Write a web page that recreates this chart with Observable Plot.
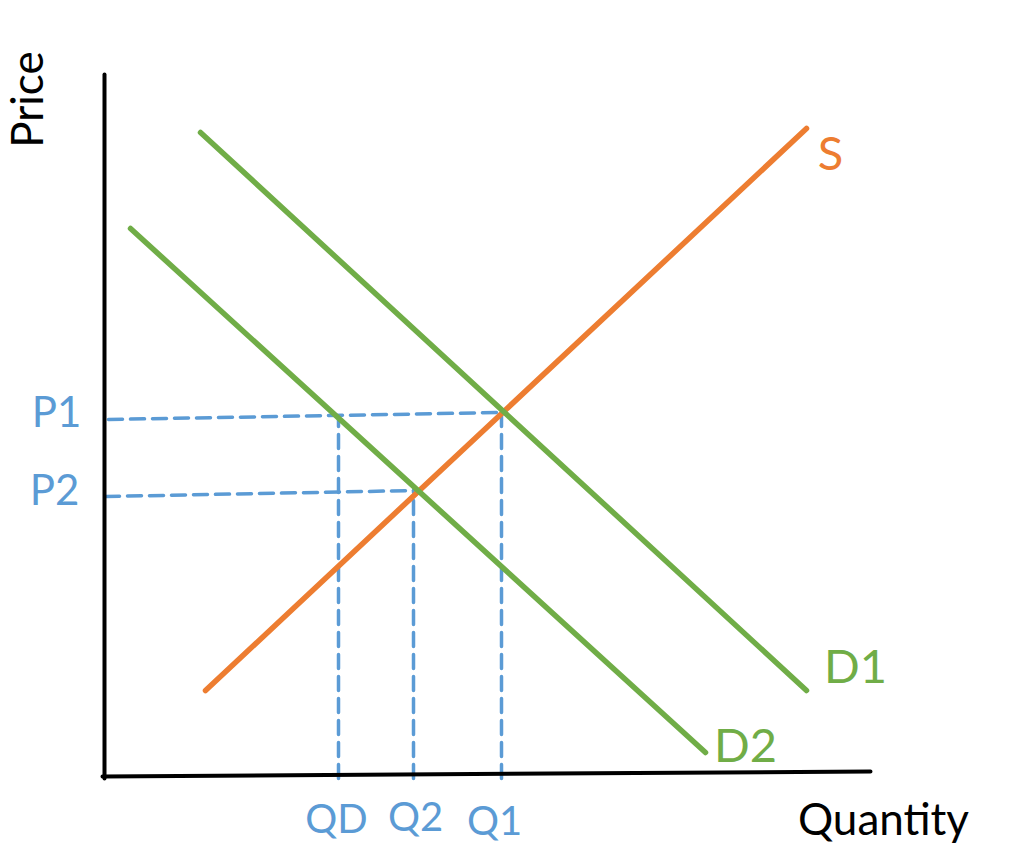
<!DOCTYPE html>
<html>
<head>
<meta charset="utf-8">
<script src="https://cdn.jsdelivr.net/npm/d3@7"></script>
<script src="https://cdn.jsdelivr.net/npm/@observablehq/plot@0.6"></script>
<style>
  html, body { margin: 0; padding: 0; background: #fff; }
  svg { display: block; }
</style>
</head>
<body>
<div id="chart"></div>
<script>
// Quantity / price coordinates (origin at the axes corner)
const supplyQ = [101, 702];
const supplyP = [86, 648];
const demand1Q = [96, 702];
const demand1P = [644, 86];
const demand2Q = [26, 601];
const demand2P = [548, 24];

const xAxisQ = [-2, 766];
const xAxisP = [0, 5];
const yAxisQ = [0, 0];
const yAxisP = [-2, 702];

// equilibrium / guide values
const priceLabels = ["P1", "P2"];
const priceLevels = [[357, 364], [280, 286]];   // left end, right end
const priceLineQ = [[4, 396], [1, 311]];
const qtyLabels = ["QD", "Q2", "Q1"];
const qtyLevels = [234, 309, 397];
const qtyTop = [357, 286, 364];

const curveLabels = ["S", "D1", "D2"];
const curveLabelQ = [726, 751, 641];
const curveLabelP = [622, 109, 30];
const qtyLabelQ = [232, 311, 390];
const qtyLabelP = [-44, -42, -46];
const priceLabelQ = [-48, -50];
const priceLabelP = [363, 285];

const ORANGE = "#ED7D31", GREEN = "#70AD47", BLUE = "#5B9BD5";

const toPts = (qs, ps, key) => qs.map((q, i) => ({q, p: ps[i], key}));

const curves = [
  ...toPts(supplyQ, supplyP, "S"),
  ...toPts(demand1Q, demand1P, "D1"),
  ...toPts(demand2Q, demand2P, "D2")
];
const axes = [
  ...toPts(xAxisQ, xAxisP, "x"),
  ...toPts(yAxisQ, yAxisP, "y")
];
const guides = [];
priceLabels.forEach((l, i) => {
  guides.push({q: priceLineQ[i][0], p: priceLevels[i][0], key: l});
  guides.push({q: priceLineQ[i][1], p: priceLevels[i][1], key: l});
});
qtyLabels.forEach((l, i) => {
  guides.push({q: qtyLevels[i], p: -2, key: l});
  guides.push({q: qtyLevels[i], p: qtyTop[i], key: l});
});

const curveText = curveLabels.map((t, i) => ({t, q: curveLabelQ[i], p: curveLabelP[i], c: i === 0 ? ORANGE : GREEN}));
const qtyText = qtyLabels.map((t, i) => ({t, q: qtyLabelQ[i], p: qtyLabelP[i]}));
const priceText = priceLabels.map((t, i) => ({t, q: priceLabelQ[i], p: priceLabelP[i]}));

const chart = Plot.plot({
  width: 1017,
  height: 864,
  margin: 0,
  x: {domain: [-104, 913], range: [0, 1017], axis: null},
  y: {domain: [-88, 776], range: [864, 0], axis: null},
  style: {fontFamily: "Lato, 'Open Sans', sans-serif", background: "#fff"},
  marks: [
    Plot.line(guides, {x: "q", y: "p", z: "key", stroke: BLUE, strokeWidth: 3.5, strokeDasharray: "14,8"}),
    Plot.line(axes, {x: "q", y: "p", z: "key", stroke: "#000", strokeWidth: 4}),
    Plot.line(curves, {x: "q", y: "p", z: "key", stroke: d => d.key === "S" ? ORANGE : GREEN, strokeWidth: 5.5}),
    Plot.text(curveText, {x: "q", y: "p", text: "t", fill: "c", fontSize: 47}),
    Plot.text(qtyText, {x: "q", y: "p", text: "t", fill: BLUE, fontSize: 40}),
    Plot.text(priceText, {x: "q", y: "p", text: "t", fill: BLUE, fontSize: 42}),
    Plot.text(["Quantity"], {x: 779, y: -44, text: d => d, fill: "#000", fontSize: 44}),
    Plot.text(["Price"], {x: -76, y: 677, text: d => d, fill: "#000", fontSize: 44, rotate: -90})
  ]
});
document.getElementById("chart").appendChild(chart);
</script>
</body>
</html>
